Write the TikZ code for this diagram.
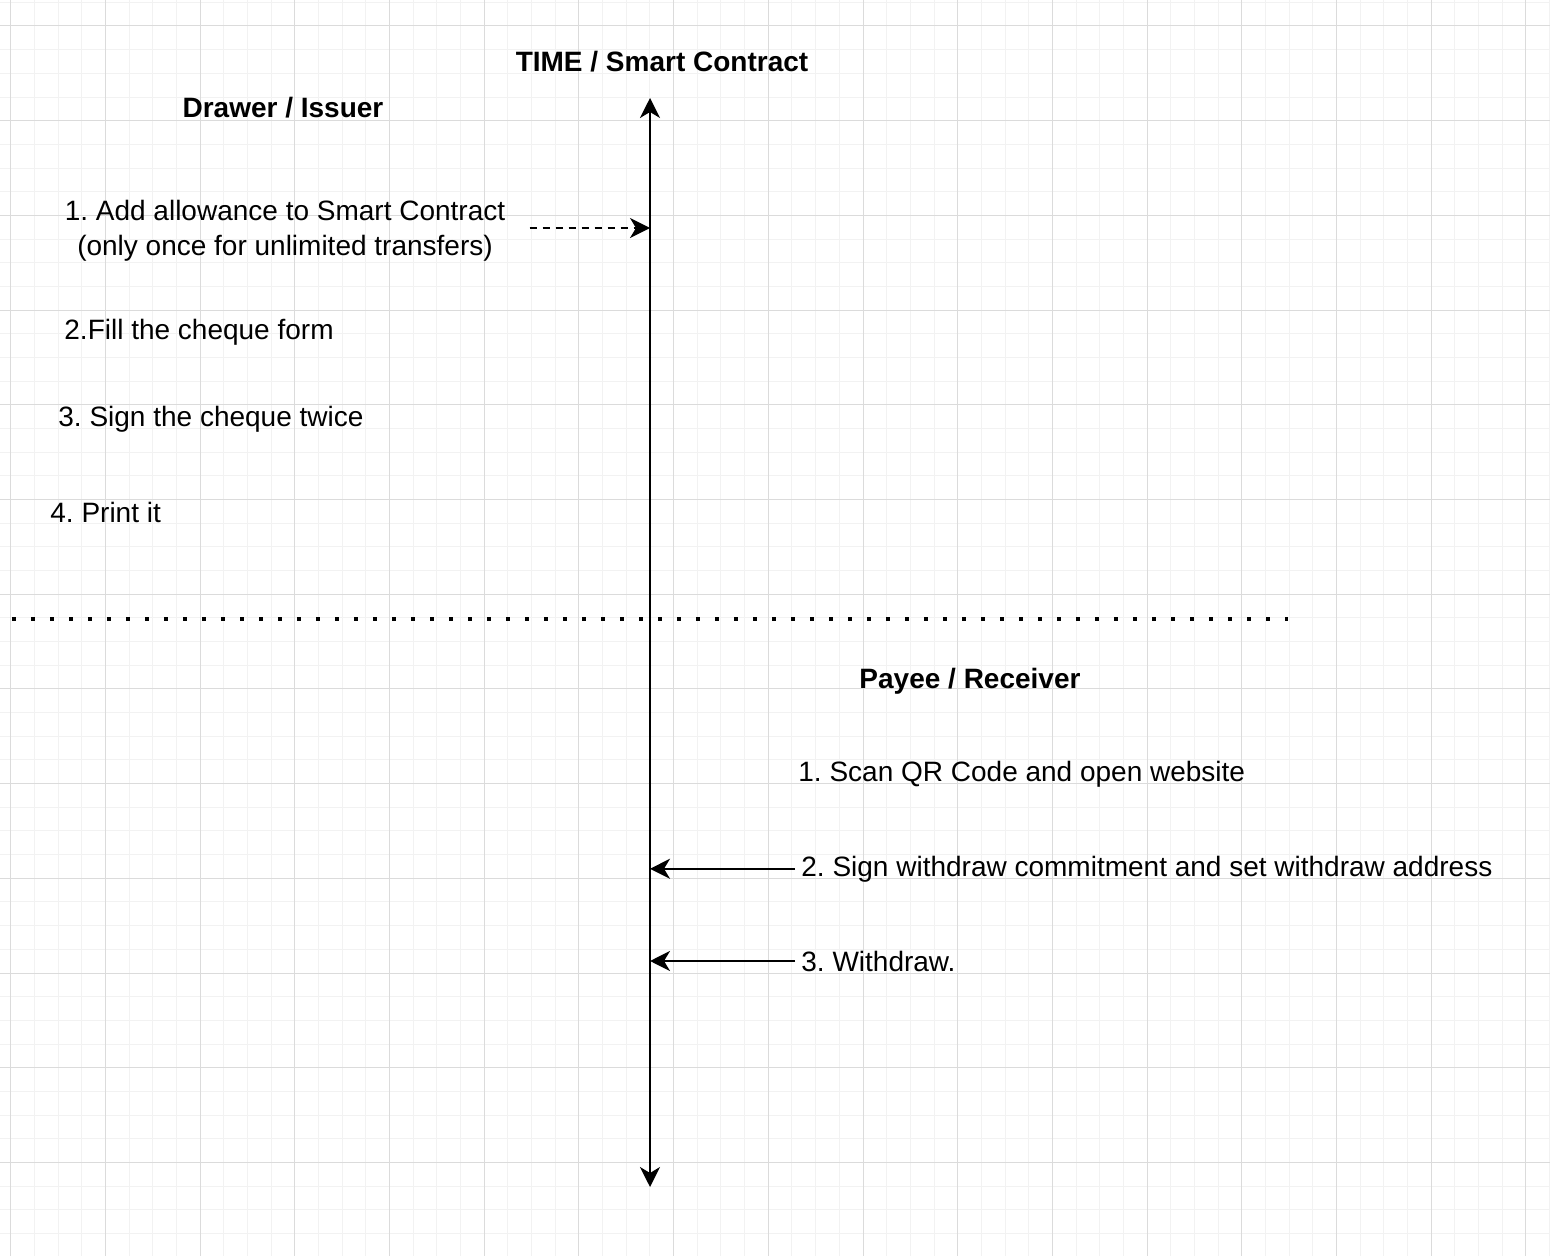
\documentclass[tikz,border=0pt]{standalone}
\usepackage{fontspec}
\setmainfont{Liberation Sans}
\usetikzlibrary{arrows.meta}
\frenchspacing

\begin{document}
\begin{tikzpicture}[x = 0.5pt, y = -0.5pt,
    every node/.style = {inner sep = 0pt, font = \fontsize{14}{17.5}\selectfont},
    heading/.style = {font = \fontsize{14}{17.5}\selectfont\bfseries},
    minor/.style = {draw = black!5, line width = 0.5pt},
    major/.style = {draw = black!14, line width = 0.5pt},
    timeline/.style = {line width = 1pt, {Stealth[length = 10pt, width = 10pt, inset = 3pt]}-{Stealth[length = 10pt, width = 10pt, inset = 3pt]}},
    call/.style = {line width = 1pt, -{Stealth[length = 10pt, width = 10pt, inset = 3pt]}},
    approve/.style = {call, dash pattern = on 3.5pt off 3pt},
    divider/.style = {line width = 2pt, dash pattern = on 2pt off 7.5pt}]
        \useasboundingbox[fill = white] (0,0) rectangle (1550,1256);
        % grid
        \foreach \i in {0,...,65} \draw[minor] (10.7+23.675*\i,0) -- (10.7+23.675*\i,1256);
        \foreach \i in {-1,...,52} \draw[minor] (0,26+23.675*\i) -- (1550,26+23.675*\i);
        \foreach \i in {0,...,16} \draw[major] (10.7+94.7*\i,0) -- (10.7+94.7*\i,1256);
        \foreach \i in {0,...,13} \draw[major] (0,26+94.7*\i) -- (1550,26+94.7*\i);
        % time axis
        \coordinate (axtop) at (650,98);
        \coordinate (axbot) at (650,1187);
        \draw[timeline] (axbot) -- (axtop);
        \node[heading, anchor = base] (time) at (662,72) {TIME / Smart Contract};
        % drawer
        \node[heading, anchor = base] (drawer) at (283,118) {Drawer / Issuer};
        \node[align = center, inner xsep = 12pt] (allow) at (285,231)
            {1. Add allowance to Smart Contract\\(only once for unlimited transfers)};
        \node[anchor = base west] (fill) at (64,340) {2.Fill the cheque form};
        \node[anchor = base west] (sign) at (58,426) {3. Sign the cheque twice};
        \node[anchor = base west] (print) at (50,522) {4. Print it};
        \draw[approve] ([yshift = 1.5pt]allow.east) -- ([yshift = 1.5pt]allow.east -| axtop);
        % divider
        \coordinate (divl) at (12,619);
        \coordinate (divr) at (1288,619);
        \draw[divider] (divl) -- (divr);
        % payee
        \node[heading, anchor = base] (payee) at (970,688) {Payee / Receiver};
        \node[anchor = base west] (scan) at (798,781) {1. Scan QR Code and open website};
        \node[anchor = base west, inner xsep = 3pt] (commit) at (795,876) {2. Sign withdraw commitment and set withdraw address};
        \node[anchor = base west, inner xsep = 3pt] (withdraw) at (795,971) {3. Withdraw.};
        \draw[call] (commit.west) -- (commit.west -| axtop);
        \draw[call] (withdraw.west) -- (withdraw.west -| axtop);
\end{tikzpicture}
\end{document}
